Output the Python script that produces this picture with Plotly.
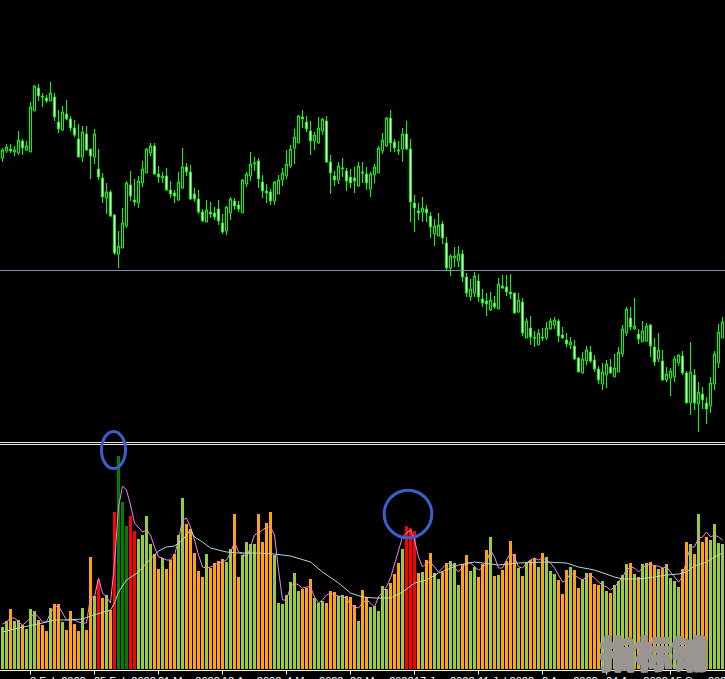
import plotly.graph_objects as go

W, H = 725, 679

# ---------------- data ----------------
idx = list(range(181))

opens = [
    283,290,292,289,288,300,291,289,330,353, 345,343,340,344,319,311,327,322,313,302,
    284,307,292,284,272,263,243,249,226,187, 193,215,256,241,238,258,268,288,295,267,
    263,265,251,248,241,253,274,269,247,242, 229,219,229,228,232,218,210,228,240,236,
    228,257,265,277,280,259,250,249,240,247, 261,265,275,293,298,324,319,310,300,298,
    310,320,279,265,261,272,270,264,263,255, 269,267,252,266,268,290,295,323,299,291,
    292,307,292,238,230,229,232,225,207,205, 217,198,173,183,180,187,164,144,148,160,
    142,140,131,138,132,155,154,149,148,129, 139,103,113,104,96,104,103,112,116,120,
    106,101,96,95,83,68,80,89,81,72, 57,66,74,64,69,87,108,123,112,107,
    99,100,116,94,82,80,61,63,64,78, 85,68,38,66,37,47,38,35,57,78, 103]
highs = [
    293,297,297,295,310,302,300,339,356,357, 348,346,359,348,331,335,341,325,321,317,
    315,315,292,312,292,268,258,251,227,210, 233,260,270,262,265,280,293,298,298,275,
    269,273,260,251,269,293,278,276,253,251, 232,241,239,234,241,227,235,244,243,240,
    262,269,289,284,283,266,257,252,260,266, 273,291,296,312,326,331,325,320,309,324,
    323,325,286,270,279,283,273,272,274,279, 279,274,269,277,295,308,324,331,302,300,
    313,320,302,246,238,244,236,229,222,228, 220,204,187,194,195,191,168,162,169,167,
    152,148,149,145,163,166,166,167,148,148, 143,123,125,110,112,113,119,123,124,122,
    114,108,104,101,84,89,95,95,86,75, 78,81,82,87,94,116,134,134,143,112,
    120,118,117,103,108,91,74,73,85,87, 90,70,99,72,59,54,44,64,90,117, 124]
lows = [
    279,288,288,285,286,286,290,289,330,340, 334,338,340,320,308,310,321,310,304,284,
    279,290,262,277,261,238,227,224,186,173, 193,213,240,235,233,254,268,285,266,258,
    258,250,243,238,240,252,265,241,239,227, 219,219,223,221,216,207,206,221,231,229,
    228,254,260,270,253,243,238,236,236,247, 255,262,273,277,298,313,309,286,291,297,
    306,278,247,255,257,264,250,253,248,254, 258,251,244,258,268,287,294,289,289,286,
    279,291,219,209,221,219,219,203,195,205, 197,171,165,174,174,159,144,140,144,139,
    134,125,130,132,132,152,145,142,127,128, 105,103,96,94,96,100,101,111,112,99,
    102,94,92,81,69,67,76,78,69,57, 51,53,67,64,69,84,105,111,111,97,
    99,99,84,75,79,60,59,45,59,75, 66,38,26,31,9,32,17,28,51,73, 103]
closes = [
    291,294,290,291,301,293,295,334,355,345, 344,340,348,324,312,329,322,313,306,284,
    309,291,285,307,264,244,249,225,188,195, 218,258,245,239,260,272,292,295,267,264,
    265,251,247,245,259,274,269,242,242,229, 220,231,227,224,220,209,234,242,235,232,
    261,267,277,278,262,250,248,240,259,261, 268,277,292,304,325,322,312,300,306,313,
    322,279,268,261,275,273,260,258,260,275, 268,258,267,274,293,301,323,298,293,290,
    307,292,239,233,228,233,228,214,215,216, 203,173,185,185,187,164,148,152,165,144,
    138,137,141,134,157,153,149,147,128,141, 108,120,104,103,108,103,113,120,121,105,
    103,97,99,82,69,82,91,80,72,61, 69,77,68,73,89,112,132,114,115,102,
    110,115,95,79,91,61,67,70,82,86, 68,38,69,38,49,41,32,58,87,109, 119]

volume = [
    42,48,60,48,49,44,40,60,58,49, 44,38,61,65,65,47,39,58,45,38,
    61,39,112,73,89,71,74,59,157,213, 167,143,153,138,130,134,153,125,115,100,
    111,100,109,115,134,171,145,140,116,98, 92,115,101,106,108,110,107,120,155,92,
    114,127,125,125,155,127,146,157,114,66, 65,74,87,96,78,80,81,90,71,66,
    68,66,78,77,73,74,73,72,64,48, 79,72,62,63,58,83,80,86,95,106,
    120,143,141,138,96,97,109,116,96,90, 97,106,108,106,84,105,114,98,102,92,
    105,119,132,93,94,99,108,128,115,101, 93,107,109,111,102,116,112,98,95,89,
    75,99,102,99,81,90,96,96,85,84, 88,78,76,84,88,94,105,106,95,92,
    105,106,107,104,100,101,105,91,88,82, 100,127,125,115,155,127,132,129,145,126, 125]

# volume class: G = up, O = down, D = up climax, R = down climax
vol_class = list(
    "GGOGGOGGGO" "OOGOOGOOOO" "GOOGROGORD" "DDRRGGGGOO" "GOOOGGOOOO" "OGOOOOGGOO"
    "GGGGOOOOGG" "GGGGGOOOGG" "GOOOGGOOOG" "OOGGGGGOOO" "GRRROGOOGG" "OOGGGOOGGO"
    "OOGOGOOOOG" "OGOOGOGGGO" "OOGOOGGOOO" "GGOGGGGOGO" "GGOOGOGGGG" "OOGOGOOGGG" "G")

fast_ma = [
    45,47,51,51,47,44,47,52,56,52, 47,47,56,62,63,56,49,49,49,47,
    46,46,72,72,91,76,72,66,106,162, 183,179,164,146,141,137,139,134,122,112,
    111,109,109,114,129,149,151,142,129,114, 102,101,102,104,106,107,109,116,127,117,
    116,111,122,134,136,139,142,142,134,99, 69,69,82,86,84,81,82,82,72,66,
    69,74,76,74,73,72,71,64,62,61, 66,69,66,62,72,77,82,91,104,119,
    132,136,139,129,112,102,106,107,102,97, 101,105,106,101,97,102,106,106,102,99,
    101,106,119,112,101,101,109,116,112,102, 101,106,109,111,109,111,109,106,101,94,
    87,89,96,94,91,89,92,94,91,87, 84,82,79,82,87,92,99,102,101,97,
    101,104,105,103,103,101,102,97,92,87, 92,109,122,122,131,132,137,132,134,132, 129]

slow_ma_idx = [0, 4, 10, 13, 16, 20, 22, 27, 28, 29, 31, 33, 34, 36, 38, 39, 41, 43, 45,
               47, 48, 50, 52, 56, 59, 64, 68, 72, 77, 80, 84, 87, 90, 93, 97, 100, 103,
               106, 109, 114, 118, 124, 129, 136, 141, 144, 148, 153, 155, 159, 163, 166,
               169, 171, 173, 176, 178, 180]
slow_ma = [37, 41, 46, 49, 49, 50, 53, 59, 66, 77, 89, 94, 97, 106, 114, 118, 122, 123, 129,
           139, 132, 127, 121, 117, 116, 116, 115, 113, 107, 97, 86, 76, 72, 71, 71, 77, 86,
           89, 96, 104, 107, 104, 106, 107, 106, 102, 99, 92, 90, 90, 92, 94, 95, 97, 103,
           107, 112, 116]

level_price = 170.5

tick_idx = [-9, 7, 23, 39, 55, 71, 87, 103, 119, 135, 151, 167]
tick_labels = ["12 Jan 2022", "3 Feb 2022", "25 Feb 2022", "21 Mar 2022", "12 Apr 2022",
               "4 May 2022", "26 May 2022", "17 Jun 2022", "11 Jul 2022", "2 Aug 2022",
               "24 Aug 2022", "15 Sep 2022"]

watermark = "指标铺"

# ---------------- styling ----------------
class_colors = {"G": "#9ACD32", "O": "#FFA500", "D": "#008000", "R": "#FF0000"}
bar_colors = [class_colors[c] for c in vol_class]
wm_color = "#9A9590"


def px(v):
    return v / W


def py(v):
    return 1 - v / H


fig = go.Figure()
fig.add_trace(go.Candlestick(
    x=idx, open=opens, high=highs, low=lows, close=closes,
    xaxis="x", yaxis="y",
    increasing=dict(line=dict(color="#00FF00", width=1), fillcolor="#000000"),
    decreasing=dict(line=dict(color="#00FF00", width=1), fillcolor="#FFFFFF"),
    whiskerwidth=0, hoverinfo="none", showlegend=False))
fig.add_trace(go.Bar(
    x=idx, y=volume, xaxis="x2", yaxis="y2",
    marker=dict(color=bar_colors, line=dict(width=0)),
    hoverinfo="none", showlegend=False))
fig.add_trace(go.Scatter(
    x=idx, y=fast_ma, xaxis="x2", yaxis="y2", mode="lines",
    line=dict(color="#EE82EE", width=1), hoverinfo="none", showlegend=False))
fig.add_trace(go.Scatter(
    x=slow_ma_idx, y=slow_ma, xaxis="x2", yaxis="y2", mode="lines",
    line=dict(color="#ADD8E6", width=1), hoverinfo="none", showlegend=False))

xr = [-0.625, 180.625]
shapes = [
    dict(type="line", xref="paper", yref="y", x0=0, x1=1, y0=level_price, y1=level_price,
         line=dict(color="#8090A6", width=1)),
    dict(type="line", xref="paper", yref="paper", x0=0, x1=1, y0=py(442.5), y1=py(442.5),
         line=dict(color="#E8E8E8", width=1)),
    dict(type="line", xref="paper", yref="paper", x0=0, x1=1, y0=py(444.5), y1=py(444.5),
         line=dict(color="#E8E8E8", width=1)),
    dict(type="line", xref="paper", yref="paper", x0=0, x1=1, y0=py(670.5), y1=py(670.5),
         line=dict(color="#FFFFFF", width=1)),
]
for t in tick_idx:
    shapes.append(dict(type="line", xref="x2", yref="paper", x0=t, x1=t,
                       y0=py(671), y1=py(674.5), line=dict(color="#FFFFFF", width=1)))
shapes.append(dict(type="circle", xref="paper", yref="paper",
                   x0=px(101.5), x1=px(125.5), y0=py(431.5), y1=py(468.5),
                   line=dict(color="#3A5FCD", width=3)))
shapes.append(dict(type="circle", xref="paper", yref="paper",
                   x0=px(384.2), x1=px(431.8), y0=py(490.2), y1=py(537.8),
                   line=dict(color="#3A5FCD", width=3)))

annotations = []
for t, lab in zip(tick_idx, tick_labels):
    annotations.append(dict(x=t, xref="x2", y=py(673), yref="paper", text=lab,
                            xanchor="left", yanchor="top", showarrow=False, xshift=-3,
                            font=dict(family="Liberation Sans", size=11, color="#FFFFFF")))
shadow = ", ".join(f"{dx}px {dy}px 0 {wm_color}" for dx, dy in
                   [(1, 0), (-1, 0), (0, 1), (0, -1), (1, 1), (-1, -1), (1, -1), (-1, 1)])
annotations.append(dict(x=px(653.5), y=py(652), xref="paper", yref="paper",
                        text=watermark, showarrow=False, xanchor="center",
                        yanchor="middle",
                        font=dict(family="Noto Sans CJK SC", size=36, color=wm_color,
                                  weight=900, shadow=shadow)))

fig.update_layout(
    width=W, height=H, margin=dict(l=0, r=0, t=0, b=0),
    paper_bgcolor="#000000", plot_bgcolor="#000000",
    showlegend=False, bargap=0.25, boxgap=0.5, boxgroupgap=0,
    xaxis=dict(domain=[0, 1], range=xr, visible=False, anchor="y",
               rangeslider=dict(visible=False)),
    yaxis=dict(domain=[1 - 441 / H, 1], range=[0, 441], visible=False),
    xaxis2=dict(domain=[0, 1], range=xr, visible=False, anchor="y2"),
    yaxis2=dict(domain=[10 / H, 233 / H], range=[0, 223], visible=False),
    shapes=shapes, annotations=annotations,
)

fig.write_html(
    "out.html",
    config={"displayModeBar": False},
    post_script="document.body.style.margin='0';document.body.style.overflow='hidden';"
                "document.body.style.background='#000';",
)
